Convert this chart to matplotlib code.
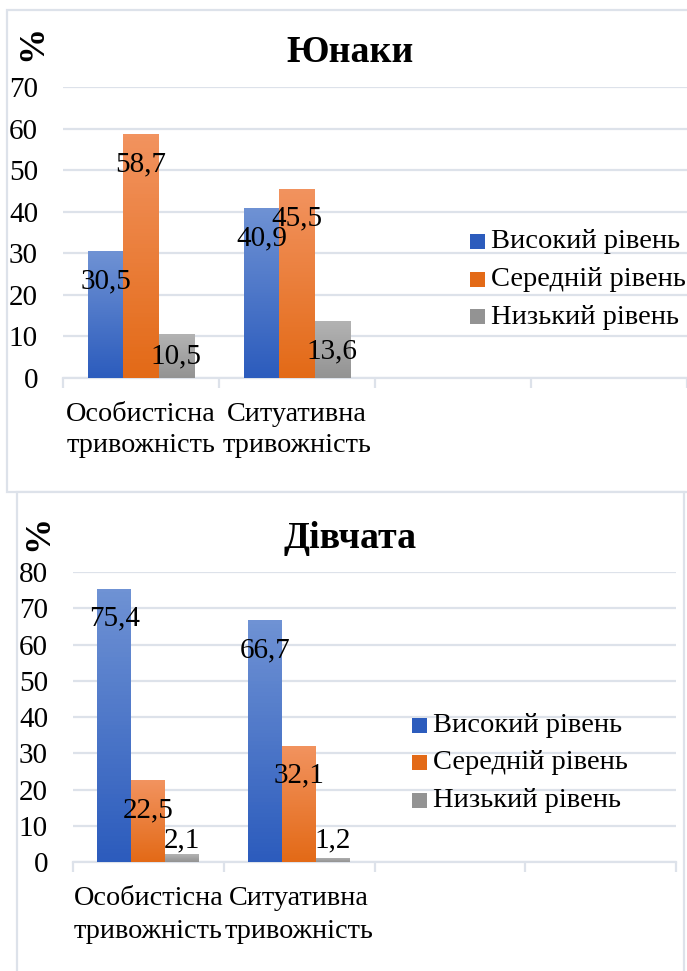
"""Two grouped bar charts of anxiety levels (boys / girls)."""

import numpy as np
import matplotlib
matplotlib.use('Agg')
import matplotlib.pyplot as plt
from matplotlib.patches import Rectangle
from matplotlib.colors import LinearSegmentedColormap

# --- data -----------------------------------------------------------------
categories = ["Особистісна\nтривожність", "Ситуативна\nтривожність", "", ""]
series_names = ["Високий рівень", "Середній рівень", "Низький рівень"]

boys_high = [30.5, 40.9]
boys_mid = [58.7, 45.5]
boys_low = [10.5, 13.6]

girls_high = [75.4, 66.7]
girls_mid = [22.5, 32.1]
girls_low = [2.1, 1.2]

boys_title = "Юнаки"
girls_title = "Дівчата"

# --- style ----------------------------------------------------------------
W, H = 687, 971
DPI = 100
FONT = ['Liberation Serif', 'DejaVu Serif']
GRID = '#dde2ea'
# (top colour, bottom colour) of the gradient fills
GRADS = [('#6f92d4', '#2c5cbd'), ('#f2935f', '#e36a17'), ('#b3b3b3', '#939393')]
plt.rcParams['font.family'] = FONT


def px_rect(l, t, r, b):
    """pixel box -> figure fraction [left, bottom, width, height]"""
    return [l / W, 1 - b / H, (r - l) / W, (b - t) / H]


def grad_bar(ax, x, h, width, colors):
    bar = ax.bar(x, h, width, color='none', edgecolor='none', zorder=3)[0]
    cmap = LinearSegmentedColormap.from_list('g', [colors[1], colors[0]])
    im = ax.imshow(np.linspace(0, 1, 64).reshape(-1, 1), cmap=cmap,
                   extent=(x - width / 2, x + width / 2, 0, h),
                   origin='lower', aspect='auto', zorder=3)
    im.set_clip_path(bar)
    return bar


def draw_chart(box, ymax, series, title, title_y, pct_xy, legend_xy,
               label_pad, label_ls):
    fig = plt.gcf()
    ax = fig.add_axes(px_rect(*box))
    n = len(categories)
    ax.set_xlim(-0.5, n - 0.5)
    ax.set_ylim(0, ymax)
    ax.set_yticks(np.arange(0, ymax + 1, 10))
    ax.yaxis.grid(True, color=GRID, lw=1.6, zorder=0)
    ax.set_axisbelow(True)
    for s in ['top', 'right', 'left']:
        ax.spines[s].set_visible(False)
    ax.spines['bottom'].set_color(GRID)
    ax.spines['bottom'].set_linewidth(1.6)
    ax.tick_params(axis='y', length=0, pad=18, labelsize=21)
    ax.set_xticks(range(n))
    ax.set_xticklabels(categories, fontsize=20.3, linespacing=label_ls)
    ax.tick_params(axis='x', length=0, pad=label_pad)
    ax.set_xticks(np.arange(-0.5, n), minor=True)
    ax.tick_params(axis='x', which='minor', length=7, width=1.6, color=GRID)

    px_per_unit = (box[3] - box[1]) / ymax
    bw = 0.225
    for i, vals in enumerate(series):
        for j, v in enumerate(vals):
            x = j + (i - 1) * bw
            grad_bar(ax, x, v, bw, GRADS[i])
            txt = f"{v:.1f}".replace('.', ',')
            if v * px_per_unit - 30 < 22:
                xy, dy = (x, 0), 22
            else:
                xy, dy = (x, v), -30
            ax.annotate(txt, xy, xytext=(0, dy), textcoords='offset pixels',
                        ha='center', va='center', fontsize=21, zorder=5)

    fig.text(350 / W, 1 - title_y / H, title, ha='center', va='center',
             fontsize=27.3, fontweight='bold')
    fig.text(pct_xy[0] / W, 1 - pct_xy[1] / H, '%', rotation=90,
             ha='center', va='center', fontsize=26, fontweight='bold')

    lx, ly = legend_xy
    for i, name in enumerate(series_names):
        yc = ly + i * 37.5
        fig.patches.append(Rectangle((lx / W, 1 - (yc + 7.5) / H), 15 / W, 15 / H,
                                     transform=fig.transFigure,
                                     facecolor=GRADS[i][1], edgecolor='none'))
        fig.text((lx + 21) / W, 1 - yc / H, name, ha='left', va='center',
                 fontsize=20.5)
    return ax


fig = plt.figure(figsize=(W / DPI, H / DPI), dpi=DPI)

# panel frames
fig.patches.append(Rectangle((7 / W, 1 - 492 / H), 700 / W, 482 / H,
                             transform=fig.transFigure, facecolor='white',
                             edgecolor=GRID, lw=1.6, zorder=-5))
fig.patches.append(Rectangle((17 / W, 1 - 1000 / H), 667 / W, 508 / H,
                             transform=fig.transFigure, facecolor='white',
                             edgecolor=GRID, lw=1.6, zorder=-5))

draw_chart((63, 87, 687, 378), 70, [boys_high, boys_mid, boys_low],
           boys_title, 52, (33, 43), (470, 242), 17, 1.35)
draw_chart((73, 572, 676, 862), 80, [girls_high, girls_mid, girls_low],
           girls_title, 539, (39, 533), (412, 725), 17, 1.45)

fig.savefig('out.png', dpi=DPI)
